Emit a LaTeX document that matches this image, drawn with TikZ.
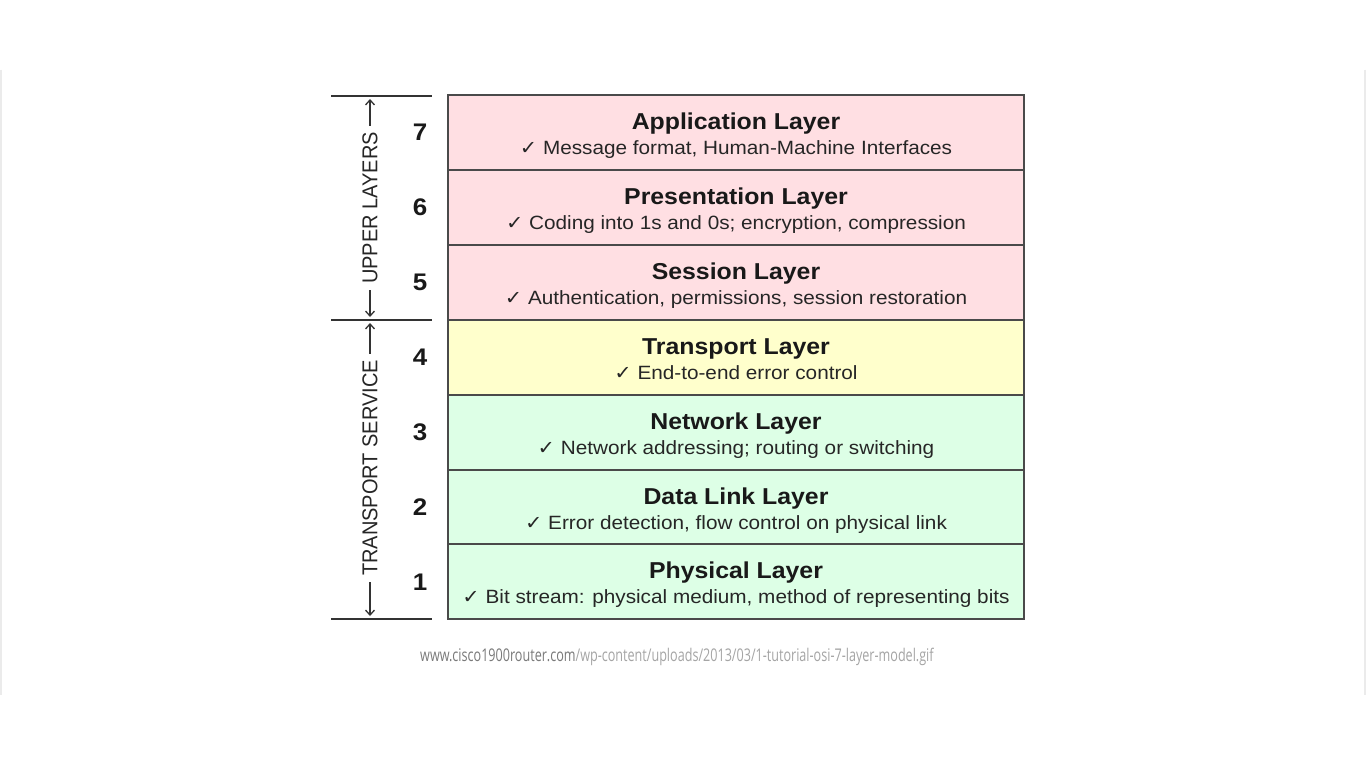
\documentclass[tikz,border=0pt]{standalone}
\usepackage{fontspec}
\setmainfont{Liberation Sans}[FakeStretch=1.08]
\newfontfamily\djv{DejaVu Sans}[FakeStretch=1.08]
\newfontfamily\sidefont{Liberation Sans}[FakeStretch=0.93]
\newfontfamily\urlfont{Open Sans}[FakeStretch=0.72]
\usetikzlibrary{arrows.meta}
\definecolor{pinkL}{HTML}{FFDFE3}
\definecolor{yellowL}{HTML}{FFFFCC}
\definecolor{greenL}{HTML}{DDFFE6}
\definecolor{edge}{HTML}{4A4A4A}
\definecolor{urldark}{HTML}{7A7A7A}
\definecolor{urllight}{HTML}{A5A5A5}
\tikzset{
 layerbox/.style={draw=edge, line width=2pt, minimum width=576pt, minimum height=74.9pt, inner sep=0pt},
 ttl/.style={font=\fontsize{23}{25}\selectfont\bfseries, anchor=base, inner sep=0pt, text=black!90},
 sub/.style={font=\fontsize{19.2}{21}\selectfont, anchor=base, inner sep=0pt, text=black!85},
 num/.style={font=\fontsize{24}{26}\selectfont\bfseries, inner sep=0pt, text=black!90},
 side/.style={font=\sidefont\fontsize{21.5}{23}\selectfont, rotate=90, inner sep=6pt, text=black!85},
 bracket/.style={line width=1.5pt, draw=black!80},
 sidearrow/.style={line width=1.3pt, draw=black!80, -{Straight Barb[length=5pt,width=9pt]}},
 edgeline/.style={line width=1.5pt, draw=black!8},
}
\newcommand\ck{{\djv ✓}\ }
\begin{document}
\begin{tikzpicture}[x=1pt,y=-1pt]
\useasboundingbox (0,0) rectangle (1366,768);
\fill[white] (0,0) rectangle (1366,768);
\coordinate (fl1) at (1,70); \coordinate (fl2) at (1,695);
\coordinate (fr1) at (1365,70); \coordinate (fr2) at (1365,695);
\draw[edgeline] (fl1) -- (fl2);
\draw[edgeline] (fr1) -- (fr2);
\foreach \n/\t/\s/\c in {
 7/Application Layer/{Message format, Human-Machine Interfaces}/pinkL,
 6/Presentation Layer/{Coding into 1s and 0s; encryption, compression}/pinkL,
 5/Session Layer/{Authentication, permissions, session restoration}/pinkL,
 4/Transport Layer/{End-to-end error control}/yellowL,
 3/Network Layer/{Network addressing; routing or switching}/greenL,
 2/Data Link Layer/{Error detection, flow control on physical link}/greenL,
 1/Physical Layer/{Bit stream: physical medium, method of representing bits}/greenL}{
 \node[layerbox, fill=\c] (L\n) at (736, {95+74.9*(7-\n)+37.45}) {};
 \node[ttl] (T\n) at (736, {95+74.9*(7-\n)+34.5}) {\t};
 \node[sub] (S\n) at (736, {95+74.9*(7-\n)+59.5}) {\ck\s};
 \node[num] (N\n) at (420, {95+74.9*(7-\n)+37.45}) {\n};
}
% brackets
\coordinate (b1l) at (331,96);  \coordinate (b1r) at (432,96);
\coordinate (b2l) at (331,320); \coordinate (b2r) at (432,320);
\coordinate (b3l) at (331,619); \coordinate (b3r) at (432,619);
\draw[bracket] (b1l) -- (b1r);
\draw[bracket] (b2l) -- (b2r);
\draw[bracket] (b3l) -- (b3r);
\node[side] (UL) at (370,208) {UPPER LAYERS};
\node[side] (TS) at (370,468) {TRANSPORT SERVICE};
\coordinate (ua) at (370,99);  \coordinate (ub) at (370,317);
\coordinate (ta) at (370,323); \coordinate (tb) at (370,616);
\draw[sidearrow] (UL.east) -- (ua);
\draw[sidearrow] (UL.west) -- (ub);
\draw[sidearrow] (TS.east) -- (ta);
\draw[sidearrow] (TS.west) -- (tb);
\node[anchor=base west, inner sep=0pt, font=\urlfont\fontsize{17.5}{20}\selectfont] (URL) at (420,661)
 {\textcolor{urldark}{www.cisco1900router.com}\textcolor{urllight}{/wp-content/uploads/2013/03/1-tutorial-osi-7-layer-model.gif}};
\end{tikzpicture}
\end{document}
